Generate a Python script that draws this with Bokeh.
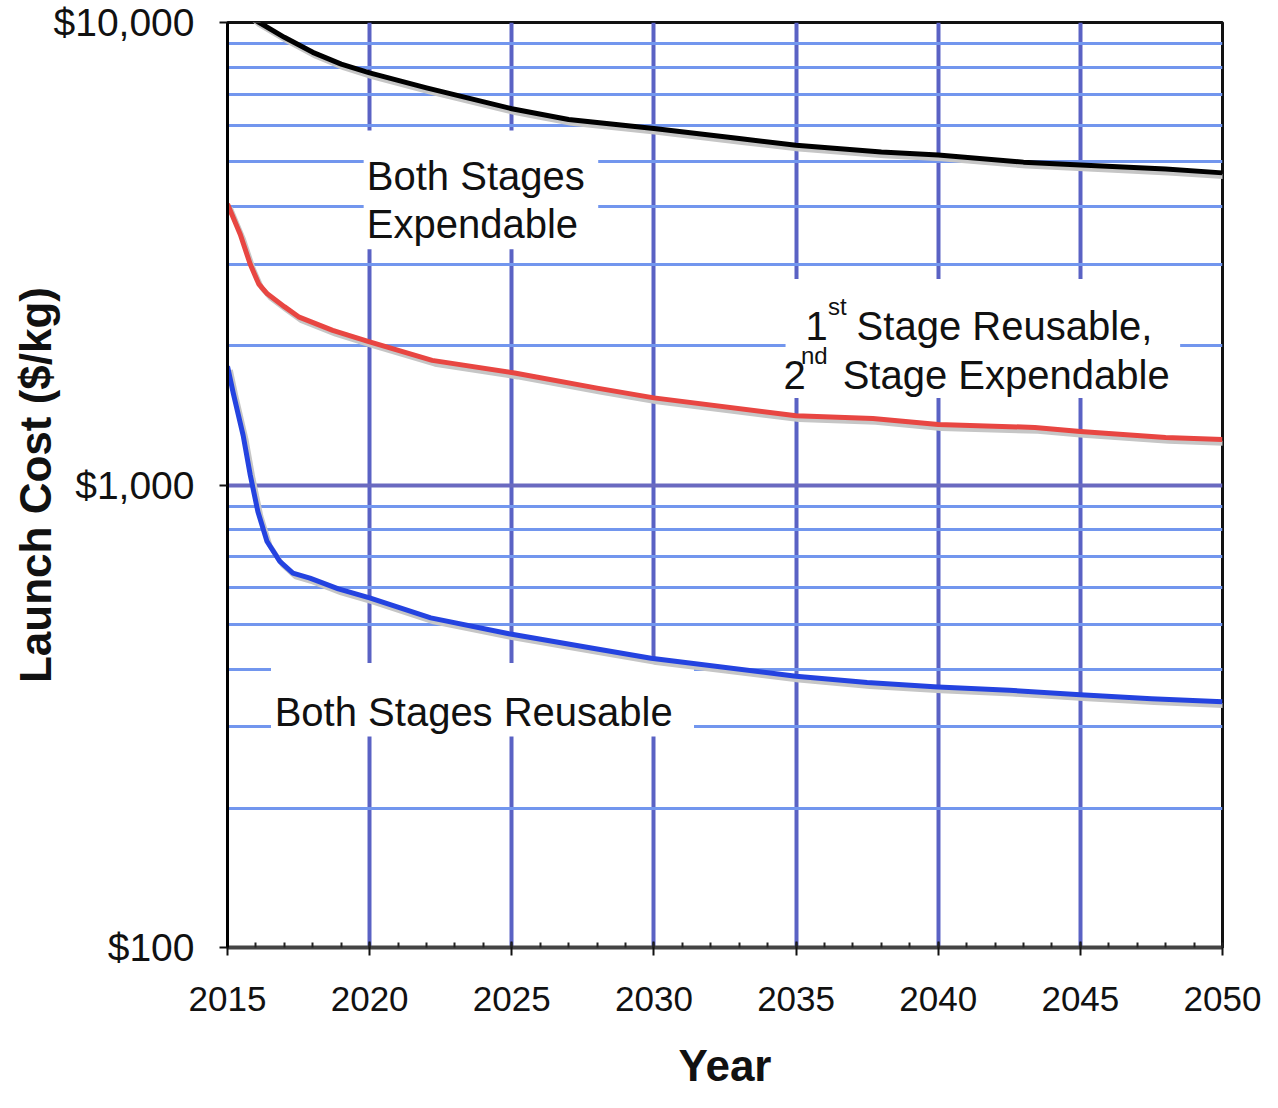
from bokeh.plotting import figure
from bokeh.models import (Range1d, FixedTicker, SingleIntervalTicker,
                          NumeralTickFormatter, Label, BoxAnnotation)
from bokeh.embed import file_html
from bokeh.resources import INLINE

# ---- data ----
years_exp = [2015, 2016, 2017, 2018, 2019, 2020, 2022, 2025, 2027, 2030,
             2033, 2035, 2038, 2040, 2043, 2045, 2048, 2050]
cost_exp = [11500, 10100, 9290, 8620, 8130, 7780, 7220, 6510, 6170, 5900,
            5610, 5430, 5250, 5170, 4990, 4920, 4820, 4730]

years_r1 = [2015, 2015.45, 2015.8, 2016.1, 2016.4, 2017, 2017.5, 2018.7,
            2020, 2022.2, 2025.1, 2028, 2030, 2035, 2037.7, 2040, 2043.4,
            2045, 2048, 2050]
cost_r1 = [4050, 3480, 3000, 2720, 2590, 2430, 2310, 2160, 2040, 1860,
           1746, 1620, 1543, 1412, 1393, 1351, 1332, 1305, 1267, 1255]

years_r2 = [2015, 2015.2, 2015.55, 2015.8, 2016.07, 2016.39, 2016.84,
            2017.3, 2017.9, 2018.9, 2020, 2022.15, 2024.9, 2027.9, 2029.9,
            2035, 2037.5, 2040, 2042.5, 2045, 2047.5, 2050]
cost_r2 = [1807, 1582, 1280, 1051, 875, 755, 684, 645, 629, 596, 570, 516,
           477, 443, 422, 386, 374, 366, 360, 352, 345, 340]

y_major = [100, 1000, 10000]
y_minor = [200, 300, 400, 500, 600, 700, 800, 900,
           2000, 3000, 4000, 5000, 6000, 7000, 8000, 9000]

FONT = "Liberation Sans"

p = figure(width=1262, height=1092, x_range=Range1d(2015, 2050),
           y_range=Range1d(100, 10000), y_axis_type="log",
           output_backend="svg", toolbar_location=None, title=None,
           min_border_left=227, min_border_right=40,
           min_border_top=22, min_border_bottom=144)
p.background_fill_color = "white"
p.border_fill_color = "white"
p.outline_line_color = "#111111"
p.outline_line_width = 3

# ---- axes ----
p.xaxis.ticker = SingleIntervalTicker(interval=5, num_minor_ticks=5)
p.yaxis.ticker = FixedTicker(ticks=y_major, minor_ticks=y_minor)
p.yaxis.formatter = NumeralTickFormatter(format="$0,0")

p.xaxis.axis_label = "Year"
p.yaxis.axis_label = "Launch Cost ($/kg)"
for ax in (p.xaxis, p.yaxis):
    ax.axis_label_text_font = FONT
    ax.axis_label_text_font_style = "bold"
    ax.axis_label_text_font_size = "44px"
    ax.axis_label_text_color = "#111111"
    ax.major_label_text_font = FONT
    ax.major_label_text_color = "#111111"
    ax.major_tick_line_color = "#111111"
    ax.major_tick_line_width = 2

p.xaxis.major_label_text_font_size = "35px"
p.xaxis.major_label_standoff = 31
p.xaxis.axis_label_standoff = 27
p.xaxis.axis_line_color = "#444444"
p.xaxis.axis_line_width = 4
p.xaxis.major_tick_in = 6
p.xaxis.major_tick_out = 8
p.xaxis.minor_tick_in = 5
p.xaxis.minor_tick_out = 0
p.xaxis.minor_tick_line_color = "#222222"
p.xaxis.minor_tick_line_width = 2

p.yaxis.major_label_text_font_size = "39px"
p.yaxis.major_label_standoff = 25
p.yaxis.axis_label_standoff = -9
p.yaxis.axis_line_color = "#000000"
p.yaxis.axis_line_width = 3
p.yaxis.major_tick_in = 0
p.yaxis.major_tick_out = 8
p.yaxis.minor_tick_line_color = None

# ---- grids ----
p.xgrid.grid_line_color = "#5a62c4"
p.xgrid.grid_line_width = 4
p.ygrid.grid_line_color = "#6a6ac0"
p.ygrid.grid_line_width = 4
p.ygrid.minor_grid_line_color = "#7296ee"
p.ygrid.minor_grid_line_width = 3

# ---- white boxes behind the annotations ----
for l, r, t, b in [(2019.79, 2028.04, 5843, 3233),
                   (2034.63, 2048.51, 2789, 1543),
                   (2016.53, 2031.41, 412, 286)]:
    p.add_layout(BoxAnnotation(left=l, right=r, top=t, bottom=b,
                               fill_color="white", fill_alpha=1.0,
                               line_color=None, level="underlay"))

# ---- lines with soft shadow ----
series = [(years_exp, cost_exp, "#000000"),
          (years_r1, cost_r1, "#e84642"),
          (years_r2, cost_r2, "#2443e0")]
for xs, ys, c in series:
    p.line([x + 0.1 for x in xs], [y * 0.981 for y in ys],
           line_color="#c6c6c6", line_width=5, line_join="round")
for xs, ys, c in series:
    p.line(xs, ys, line_color=c, line_width=5, line_join="round")

# ---- annotation texts ----
def lab(x, y, text, size="40px"):
    p.add_layout(Label(x=x, y=y, text=text, text_font=FONT,
                       text_font_size=size, text_color="#111111",
                       text_align="left", text_baseline="alphabetic"))

lab(2019.9, 4658, "Both Stages")
lab(2019.9, 3658, "Expendable")
lab(2035.33, 2212, "1")
lab(2036.12, 2429, "st", "24px")
lab(2037.13, 2212, "Stage Reusable,")
lab(2034.56, 1729, "2")
lab(2035.17, 1907, "nd", "24px")
lab(2036.64, 1729, "Stage Expendable")
lab(2016.66, 323, "Both Stages Reusable")

open("out.html", "w").write(file_html(p, INLINE))
